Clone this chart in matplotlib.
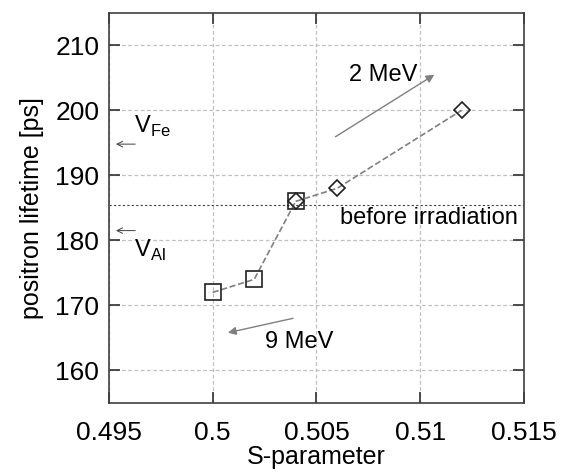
import matplotlib
matplotlib.use('Agg')
import matplotlib.pyplot as plt

plt.rcParams['font.family'] = ['Liberation Sans', 'DejaVu Sans']

# 9 MeV series (squares) and 2 MeV series (diamonds)
s_9mev = [0.500, 0.502, 0.504]
tau_9mev = [172, 174, 186]
s_2mev = [0.504, 0.506, 0.512]
tau_2mev = [186, 188, 200]

tau_before = 185.5

xticks = [0.495, 0.5, 0.505, 0.51, 0.515]
xticklabels = ['0.495', '0.5', '0.505', '0.51', '0.515']
yticks = [160, 170, 180, 190, 200, 210]

fig = plt.figure(figsize=(5.62, 4.74), dpi=100)
ax = fig.add_axes([0.194, 0.150, 0.738, 0.823])

grey = '#808080'
ax.plot(s_9mev, tau_9mev, ls='--', color=grey, lw=1.2, marker='s', ms=12,
        mfc='none', mec='#202020', mew=1.2, zorder=3)
ax.plot(s_2mev, tau_2mev, ls='--', color=grey, lw=1.2, marker='D', ms=8,
        mfc='none', mec='#202020', mew=1.2, zorder=3)

ax.axhline(tau_before, color='#404040', ls=(0, (2, 2)), lw=0.8)
ax.text(0.5147, 183.4, 'before irradiation', ha='right', va='center', fontsize=17)

arrow = dict(arrowstyle='-|>', color=grey, lw=1.0, mutation_scale=12)
ax.annotate('', xy=(0.5108, 205.7), xytext=(0.5058, 195.7), arrowprops=arrow)
ax.text(0.5082, 205.4, '2 MeV', ha='center', va='center', fontsize=17)
ax.annotate('', xy=(0.5006, 165.7), xytext=(0.5040, 168.1), arrowprops=arrow)
ax.text(0.5025, 164.3, '9 MeV', ha='left', va='center', fontsize=17)

thin = dict(arrowstyle='->', color='#404040', lw=0.7, mutation_scale=10)
ax.annotate('', xy=(0.4952, 194.8), xytext=(0.4964, 194.8), arrowprops=thin)
ax.text(0.4962, 197.6, r'V$_{\mathregular{Fe}}$', ha='left', va='center', fontsize=17)
ax.annotate('', xy=(0.4952, 181.5), xytext=(0.4964, 181.5), arrowprops=thin)
ax.text(0.4962, 178.4, r'V$_{\mathregular{Al}}$', ha='left', va='center', fontsize=17)

ax.set_xlim(0.495, 0.515)
ax.set_ylim(155, 215)
ax.set_xticks(xticks)
ax.set_xticklabels(xticklabels)
ax.set_yticks(yticks)
ax.grid(True, color='#c0c0c0', ls=(0, (3, 2)), lw=0.9)
ax.set_axisbelow(True)
ax.tick_params(direction='in', length=8, width=1.2, color='#303030',
               labelsize=19, top=True, right=True)
ax.tick_params(axis='x', pad=13)
ax.tick_params(axis='y', pad=7)
for sp in ax.spines.values():
    sp.set_color('#404040')
    sp.set_linewidth(1.2)

ax.set_xlabel('S-parameter', fontsize=18, labelpad=0)
ax.set_ylabel('positron lifetime [ps]', fontsize=18, labelpad=8)

fig.savefig('out.png', dpi=100)
